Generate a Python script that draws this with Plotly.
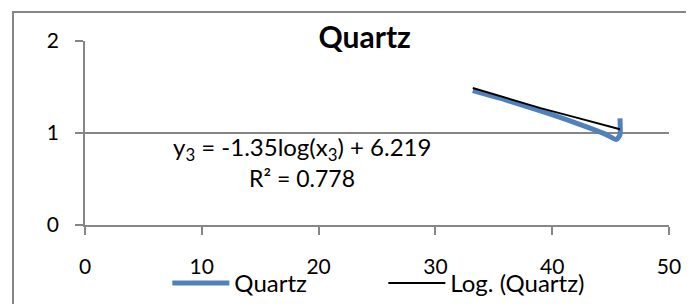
import plotly.graph_objects as go

# Data
quartz_x = [33.2, 36.0, 39.0, 42.0, 44.5, 45.5, 45.8, 45.8]
quartz_y = [1.46, 1.36, 1.24, 1.11, 0.99, 0.93, 0.98, 1.16]

trend_x = [33.2, 36.0, 39.0, 42.0, 45.8]
trend_y = [1.49, 1.38, 1.27, 1.17, 1.04]

x_ticks = [0, 10, 20, 30, 40, 50]
y_ticks = [0, 1, 2]

title_text = "Quartz"
eq_text = "y<sub>3</sub> = -1.35log(x<sub>3</sub>) + 6.219"
r2_text = "R² = 0.778"

FONT = "Lato"
GRAY = "#868686"

fig = go.Figure()
fig.add_trace(go.Scatter(
    x=quartz_x, y=quartz_y, mode="lines", name="Quartz",
    line=dict(color="#4F81BD", width=5, shape="spline", smoothing=0.6),
))
fig.add_trace(go.Scatter(
    x=trend_x, y=trend_y, mode="lines", name="Log. (Quartz)",
    line=dict(color="#000000", width=2),
))

fig.add_annotation(x=18.58, y=0.836, xref="x", yref="y", text=eq_text,
                   showarrow=False, font=dict(family=FONT, size=24, color="black"))
fig.add_annotation(x=18.58, y=0.511, xref="x", yref="y", text=r2_text,
                   showarrow=False, font=dict(family=FONT, size=23, color="black"))

# outer chart border
fig.add_shape(type="rect", xref="paper", yref="paper",
              x0=-0.1233, x1=1.2, y0=-0.6, y1=1.1576,
              line=dict(color=GRAY, width=2), layer="below")

# the page body adds an 8px offset, so the figure is sized to the visible area
fig.update_layout(
    width=686, height=296,
    margin=dict(l=77, r=25, t=33, b=79, autoexpand=False),
    paper_bgcolor="white", plot_bgcolor="white",
    font=dict(family=FONT, size=21, color="black"),
    title=dict(text="<b>" + title_text + "</b>", x=0.479, xref="paper",
               y=1 - 29 / 296, yref="container", xanchor="center", yanchor="middle",
               font=dict(family=FONT, size=30, color="black")),
    showlegend=True,
    legend=dict(orientation="h", x=0.141, y=-0.318, xanchor="left", yanchor="middle",
                font=dict(family=FONT, size=24), bgcolor="rgba(0,0,0,0)",
                entrywidth=144, entrywidthmode="pixels", itemwidth=57),
)
fig.update_xaxes(range=[0, 50], tickvals=x_ticks, showgrid=False, zeroline=False,
                 showline=True, linecolor=GRAY, linewidth=1.5, automargin=False,
                 ticks="outside", ticklen=8, tickcolor=GRAY, tickwidth=1.5,
                 ticklabelstandoff=14, tickfont=dict(family=FONT, size=21))
fig.update_yaxes(range=[0, 2], tickvals=y_ticks, showgrid=True, gridcolor=GRAY, gridwidth=1.5,
                 zeroline=False, showline=True, linecolor=GRAY, linewidth=1.5, automargin=False,
                 ticks="outside", ticklen=8, tickcolor=GRAY, tickwidth=1.5,
                 ticklabelstandoff=12, tickfont=dict(family=FONT, size=21))

fig.write_html("out.html")
